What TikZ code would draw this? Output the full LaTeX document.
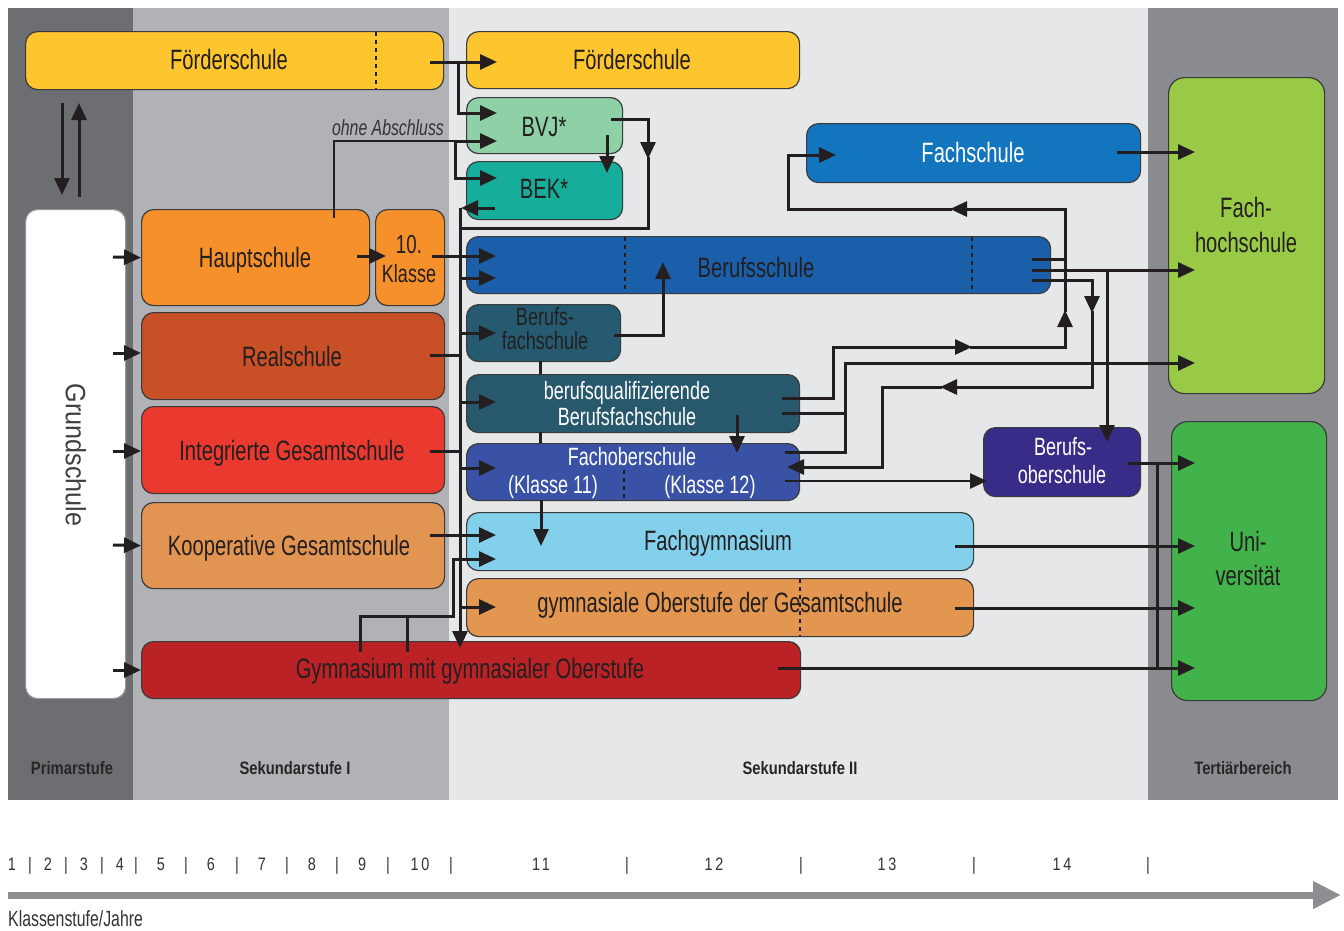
\documentclass[tikz,border=0pt]{standalone}
\usepackage{fontspec}
\setmainfont{Liberation Sans}[FakeStretch=0.72]
\newfontfamily\gsfont{Liberation Sans}[FakeStretch=0.9]
\newfontfamily\bandfont{Liberation Sans}[FakeStretch=0.82]
\newfontfamily\axisfont{Liberation Sans}[FakeStretch=0.8,LetterSpace=15]
\usetikzlibrary{arrows.meta}
\definecolor{cPrim}{HTML}{6D6E71}
\definecolor{cSekI}{HTML}{B1B2B5}
\definecolor{cSekII}{HTML}{E6E7E9}
\definecolor{cTert}{HTML}{8A8B8E}
\definecolor{cFoer}{HTML}{FDC52E}
\definecolor{cBVJ}{HTML}{8FD1A7}
\definecolor{cBEK}{HTML}{16AE9A}
\definecolor{cBS}{HTML}{1B5FAB}
\definecolor{cBFS}{HTML}{255A70}
\definecolor{cBQ}{HTML}{27586C}
\definecolor{cFOS}{HTML}{3A52A6}
\definecolor{cFG}{HTML}{83D0EC}
\definecolor{cGYO}{HTML}{E3964F}
\definecolor{cFS}{HTML}{1375BD}
\definecolor{cBOS}{HTML}{372D88}
\definecolor{cFHS}{HTML}{99CA45}
\definecolor{cUNI}{HTML}{42B34B}
\definecolor{cHS}{HTML}{F6902B}
\definecolor{cRS}{HTML}{C94F27}
\definecolor{cIGS}{HTML}{EA392F}
\definecolor{cKGS}{HTML}{E29552}
\definecolor{cGYM}{HTML}{BA2226}
\definecolor{boxline}{HTML}{3A3A3A}
\definecolor{txt}{HTML}{231F20}
\definecolor{lnc}{HTML}{231F20}
\definecolor{axisgray}{HTML}{8C8E92}
\begin{document}
\begin{tikzpicture}[x=1pt,y=-1pt,
  box/.style={draw=boxline, line width=1.2pt, rounded corners=12pt, inner sep=0pt, anchor=north west},
  lbl/.style={anchor=base, inner sep=0pt, text=txt, font=\fontsize{28}{33}\selectfont},
  slbl/.style={anchor=base, inner sep=0pt, text=txt, font=\fontsize{25}{29}\selectfont},
  wlbl/.style={slbl, text=white},
  band/.style={anchor=base, inner sep=0pt, text=black!85, font=\bandfont\bfseries\fontsize{18}{20}\selectfont},
  axl/.style={anchor=base, inner sep=0pt, text=black!80, font=\axisfont\fontsize{18}{20}\selectfont},
  ln/.style={line width=3pt, draw=lnc},
  arr/.style={ln, -{Triangle[length=17pt,width=15pt]}},
  dots/.style={line width=2pt, draw=lnc, dash pattern=on 4pt off 4pt}]
\useasboundingbox (0,0) rectangle (1344,930);
\fill[white] (0,0) rectangle (1344,930);
% bands
\fill[cPrim] (8,8) rectangle (133,800);
\fill[cSekI] (133,8) rectangle (449,800);
\fill[cSekII] (449,8) rectangle (1148,800);
\fill[cTert] (1148,8) rectangle (1338,800);
\node[band] (bPrim) at (72,774) {Primarstufe};
\node[band] (bSekI) at (295,774) {Sekundarstufe I};
\node[band] (bSekII) at (800,774) {Sekundarstufe II};
\node[band] (bTert) at (1243,774) {Tertiärbereich};
% boxes
\node[box, fill=cFoer, minimum width=418pt, minimum height=58pt] (foerL) at (25,31) {};
\node[box, fill=cFoer, minimum width=333pt, minimum height=57pt] (foerR) at (466,31) {};
\node[box, fill=white, draw=black!40, minimum width=100pt, minimum height=489pt] (gs) at (25,209) {};
\node[box, fill=cHS, minimum width=228pt, minimum height=96pt] (hs) at (141,209) {};
\node[box, fill=cHS, minimum width=69pt, minimum height=96pt] (kl) at (375,209) {};
\node[box, fill=cRS, minimum width=303pt, minimum height=87pt] (rs) at (141,312) {};
\node[box, fill=cIGS, minimum width=303pt, minimum height=87pt] (igs) at (141,406) {};
\node[box, fill=cKGS, minimum width=303pt, minimum height=86pt] (kgs) at (141,502) {};
\node[box, fill=cGYM, minimum width=659pt, minimum height=57pt] (gym) at (141,641) {};
\node[box, fill=cBVJ, minimum width=156pt, minimum height=56pt] (bvj) at (466,97) {};
\node[box, fill=cBEK, minimum width=156pt, minimum height=58pt] (bek) at (466,161) {};
\node[box, fill=cBS, minimum width=584pt, minimum height=57pt] (bs) at (466,236) {};
\node[box, fill=cBFS, minimum width=154pt, minimum height=57pt] (bfs) at (466,304) {};
\node[box, fill=cBQ, minimum width=333pt, minimum height=58pt] (bq) at (466,374) {};
\node[box, fill=cFOS, minimum width=333pt, minimum height=57pt] (fos) at (466,443) {};
\node[box, fill=cFG, minimum width=507pt, minimum height=58pt] (fg) at (466,512) {};
\node[box, fill=cGYO, minimum width=507pt, minimum height=58pt] (gyo) at (466,578) {};
\node[box, fill=cFS, minimum width=334pt, minimum height=59pt] (fs) at (806,123) {};
\node[box, fill=cBOS, minimum width=157pt, minimum height=69pt] (bos) at (983,427) {};
\node[box, fill=cFHS, rounded corners=16pt, minimum width=156pt, minimum height=316pt] (fhs) at (1168,77) {};
\node[box, fill=cUNI, rounded corners=16pt, minimum width=155pt, minimum height=279pt] (uni) at (1171,421) {};
% texts
\node[lbl] (tFoerL) at (229,69) {Förderschule};
\node[lbl] (tFoerR) at (632,69) {Förderschule};
\node[rotate=-90, inner sep=0pt, text=black!75, font=\gsfont\fontsize{28}{33}\selectfont] (tGs) at (76,455) {Grundschule};
\node[lbl] (tHs) at (255,267) {Hauptschule};
\node[slbl, font=\fontsize{26}{29}\selectfont] (tKl1) at (409,253) {10.};
\node[slbl] (tKl2) at (409,282) {Klasse};
\node[lbl] (tRs) at (292,366) {Realschule};
\node[lbl] (tIgs) at (292,460) {Integrierte Gesamtschule};
\node[lbl] (tKgs) at (289,555) {Kooperative Gesamtschule};
\node[lbl] (tGym) at (470,678) {Gymnasium mit gymnasialer Oberstufe};
\node[lbl] (tBvj) at (544,136) {BVJ*};
\node[lbl] (tBek) at (544,198) {BEK*};
\node[lbl] (tBs) at (756,277) {Berufsschule};
\node[slbl] (tBfs1) at (545,325) {Berufs-};
\node[slbl] (tBfs2) at (545,349) {fachschule};
\node[wlbl] (tBq1) at (627,399) {berufsqualifizierende};
\node[wlbl] (tBq2) at (627,425) {Berufsfachschule};
\node[wlbl] (tFos1) at (632,465) {Fachoberschule};
\node[wlbl] (tFos2) at (553,493) {(Klasse 11)};
\node[wlbl] (tFos3) at (710,493) {(Klasse 12)};
\node[lbl] (tFg) at (718,550) {Fachgymnasium};
\node[lbl] (tGyo) at (720,612) {gymnasiale Oberstufe der Gesamtschule};
\node[lbl, text=white] (tFs) at (973,162) {Fachschule};
\node[wlbl] (tBos1) at (1063,455) {Berufs-};
\node[wlbl] (tBos2) at (1062,483) {oberschule};
\node[lbl] (tFhs1) at (1246,217) {Fach-};
\node[lbl] (tFhs2) at (1246,252) {hochschule};
\node[lbl] (tUni1) at (1248,551) {Uni-};
\node[lbl] (tUni2) at (1248,585) {versität};
\node[anchor=base, inner sep=0pt, text=black!80, font=\itshape\fontsize{22}{24}\selectfont] (tOhne) at (388,135) {ohne Abschluss};
% dotted dividers
\draw[dots] (376,32) -- (376,89);
\draw[dots] (625,237) -- (625,293);
\draw[dots] (972,237) -- (972,293);
\draw[dots] (624,470) -- (624,499);
\draw[dots] (800,579) -- (800,636);
% connectors left
\draw[arr] (62,103) -- (62,195);
\draw[arr] (79,197) -- (79,103);
\draw[arr] (113,257) -- (hs.west);
\draw[arr] (113,353) -- (141,353);
\draw[arr] (113,451) -- (141,451);
\draw[arr] (113,545) -- (kgs.west);
\draw[arr] (113,670) -- (141,670);
\draw[arr] (357,256) -- (386,256);
\draw[arr] (430,62) -- (497,62);
\draw[arr] (458,62) -- (458,113) -- (497,113);
\draw[ln, line width=2.5pt] (334,218) -- (334,141) -- (455,141);
\draw[arr] (455,141) -- (497,141);
\draw[arr] (455,140) -- (455,178) -- (497,178);
\draw[arr] (607,135) -- (607,173);
\draw[arr] (611,119) -- (648,119) -- (648,159);
\draw[ln] (648,157) -- (648,228) -- (460,228) -- (460,258);
\draw[arr] (495,208) -- (461,208);
\draw[arr] (460,208) -- (460,648);
\draw[arr] (432,256) -- (496,256);
\draw[arr] (460,278) -- (496,278);
\draw[ln] (430,355) -- (460,355);
\draw[arr] (460,333) -- (496,333);
\draw[arr] (460,402) -- (496,402);
\draw[ln] (430,451) -- (460,451);
\draw[arr] (460,468) -- (496,468);
\draw[arr] (430,535) -- (496,535);
\draw[arr] (360,652) -- (360,616) -- (453,616) -- (453,559) -- (496,559);
\draw[ln] (407,652) -- (407,616);
\draw[arr] (460,607) -- (496,607);
\draw[arr] (614,335) -- (663,335) -- (663,262);
\draw[ln] (540,361) -- (540,374);
\draw[ln] (540,432) -- (540,443);
\draw[arr] (541,500) -- (541,546);
\draw[arr] (737,415) -- (737,453);
% connectors right
\draw[arr] (782,398) -- (833,398) -- (833,347) -- (972,347);
\draw[arr] (970,347) -- (1065,347) -- (1065,310);
\draw[arr] (1065,312) -- (1065,209) -- (950,209);
\draw[arr] (952,209) -- (788,209) -- (788,155) -- (836,155);
\draw[ln] (1032,259) -- (1065,259);
\draw[arr] (1032,280) -- (1092,280) -- (1092,313);
\draw[arr] (1092,311) -- (1092,387) -- (940,387);
\draw[arr] (942,387) -- (882,387) -- (882,467) -- (787,467);
\draw[arr] (1032,270) -- (1195,270);
\draw[arr] (1107,270) -- (1107,442);
\draw[ln] (782,413) -- (845,413);
\draw[arr] (785,452) -- (845,452) -- (845,363) -- (1195,363);
\draw[arr, line width=2.5pt] (785,481) -- (987,481);
\draw[arr] (1117,152) -- (1195,152);
\draw[arr] (1128,463) -- (1195,463);
\draw[ln] (1157,463) -- (1157,668);
\draw[arr] (955,546) -- (1195,546);
\draw[arr] (955,608) -- (1195,608);
\draw[arr] (778,668) -- (1195,668);
% axis
\draw[line width=7pt, draw=axisgray, -{Triangle[length=28pt,width=26pt]}] (8,895) -- (1341,895);
\foreach \x/\t [count=\i] in {12/1,48/2,84/3,120/4,161/5,211/6,262/7,312/8,362/9,420/10,541/11,714/12,887/13,1062/14}
  \node[axl] (num\i) at (\x,870) {\t};
\foreach \x [count=\i] in {30,66,102,136,186,237,287,337,388,451,627,801,974,1148}
  \node[axl] (bar\i) at (\x,870) {|};
\node[anchor=base west, inner sep=0pt, text=black!80, font=\fontsize{22}{24}\selectfont] (tAxis) at (8,926) {Klassenstufe/Jahre};
\end{tikzpicture}
\end{document}
